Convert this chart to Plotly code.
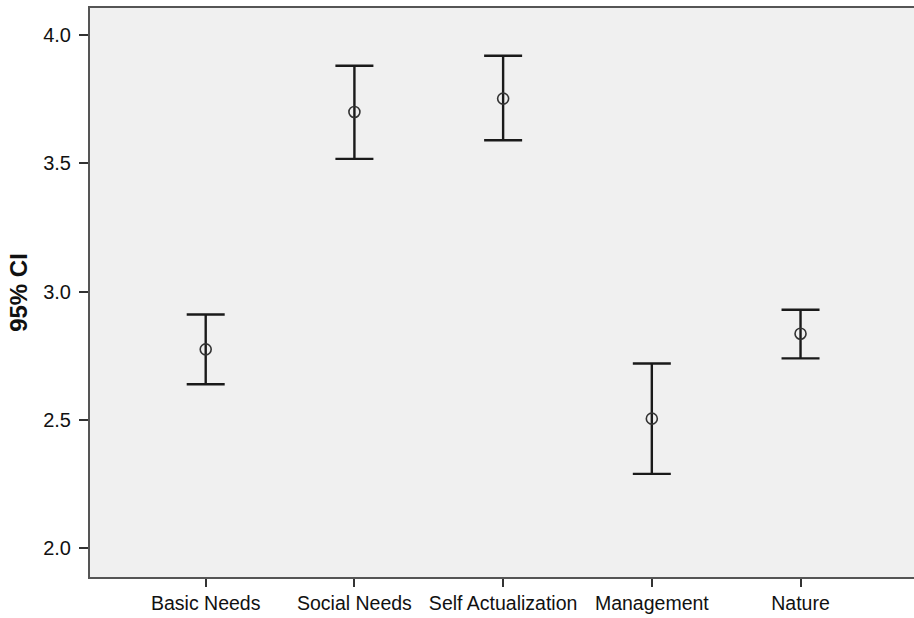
import plotly.graph_objects as go

categories = ["Basic Needs", "Social Needs", "Self Actualization", "Management", "Nature"]
means = [2.775, 3.700, 3.752, 2.505, 2.836]
upper = [2.911, 3.880, 3.919, 2.720, 2.929]
lower = [2.639, 3.517, 3.590, 2.290, 2.740]
y_ticks = [2.0, 2.5, 3.0, 3.5, 4.0]
y_tick_labels = ["2.0", "2.5", "3.0", "3.5", "4.0"]

err_plus = [u - m for u, m in zip(upper, means)]
err_minus = [m - l for m, l in zip(means, lower)]
xpos = list(range(len(categories)))

fig = go.Figure()
fig.add_trace(go.Scatter(
    x=xpos, y=means, mode="markers",
    marker=dict(symbol="circle-open", size=11, color="#333333", line=dict(width=1.6, color="#333333")),
    error_y=dict(type="data", symmetric=False, array=err_plus, arrayminus=err_minus,
                 color="#1a1a1a", thickness=2.4, width=19),
    showlegend=False, hoverinfo="skip",
))

fig.update_layout(
    width=914, height=618,
    margin=dict(l=90, r=0, t=8, b=41),
    paper_bgcolor="white", plot_bgcolor="#f0f0f0",
    font=dict(family="Liberation Sans, Arial, sans-serif", size=19, color="#111111"),
)
fig.update_xaxes(
    range=[-0.778, 4.763], tickmode="array", tickvals=xpos, ticktext=categories,
    showgrid=False, zeroline=False, showline=True, linecolor="#555555", linewidth=2,
    mirror=True, ticks="outside", ticklen=8, tickwidth=2, tickcolor="#333333",
    tickfont=dict(size=19.5),
)
fig.update_yaxes(
    range=[1.888, 4.105], tickmode="array", tickvals=y_ticks, ticktext=y_tick_labels,
    showgrid=False, zeroline=False, showline=True, linecolor="#555555", linewidth=2,
    ticks="outside", ticklen=9, tickwidth=2, tickcolor="#333333",
    tickfont=dict(size=20), ticklabelstandoff=4,
    title=dict(text="<b>95% CI</b>", font=dict(size=24), standoff=9),
)

fig.write_html("out.html")
